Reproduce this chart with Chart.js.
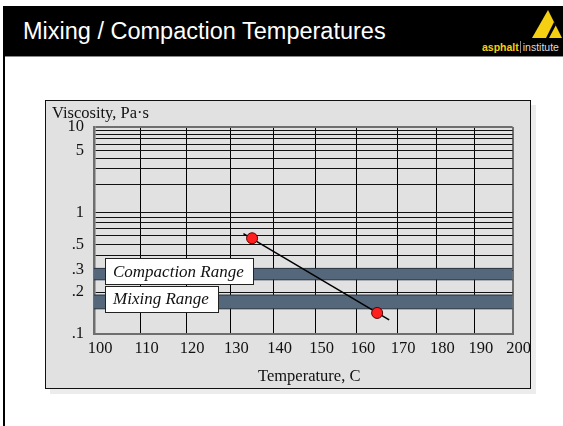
<!DOCTYPE html>
<html>
<head>
<meta charset="utf-8">
<script src="https://cdn.jsdelivr.net/npm/chart.js@4.4.1/dist/chart.umd.min.js"></script>
<style>
  body { margin: 0; width: 563px; height: 426px; background: #fff; position: relative; overflow: hidden; }
  #header { position: absolute; left: 3px; top: 6px; width: 560px; height: 50px; background: #000; border-bottom: 1px solid #8a8a8a; }
  #title { position: absolute; left: 20px; top: 12px; color: #fff; font: 23.5px "Liberation Sans", Arial, sans-serif; white-space: nowrap; }
  #leftRule { position: absolute; left: 3px; top: 56px; width: 2px; height: 370px; background: #000; }
  #logoText { position: absolute; left: 482px; top: 41px; font: 10.5px "Liberation Sans", Arial, sans-serif; white-space: nowrap; }
  #logoText b { color: #f5cf12; }
  #logoText span { color: #ddd; border-left: 1px solid #888; padding-left: 2px; margin-left: 1px; }
  #box { position: absolute; left: 45px; top: 100px; width: 484px; height: 287px; background: #e1e1e1; border: 1px solid #111; box-shadow: 5px 5px 0 #ececec; }
  #chart { position: absolute; left: 0; top: 0; }
  .axisTitle { position: absolute; font: 16.5px "Liberation Serif", "Times New Roman", serif; color: #111; white-space: nowrap; }
</style>
</head>
<body>
<div id="header"><div id="title">Mixing / Compaction Temperatures</div></div>
<svg style="position:absolute;left:530px;top:8px" width="33" height="32">
  <polygon points="18,2 2,30 32,30" fill="#f5cf12"/>
  <polygon points="24,14 16,30 19,30 26,17" fill="#000"/>
</svg>
<div id="logoText"><b>asphalt</b><span>institute</span></div>
<div id="leftRule"></div>
<div id="box">
  <canvas id="chart" width="484" height="287"></canvas>
  <div class="axisTitle" style="left:6px; top:2px;">Viscosity, Pa·s</div>
  <div class="axisTitle" style="left:212px; top:265px;">Temperature, C</div>
</div>
<script>
// temperature axis (C) and viscosity axis (Pa s)
const tempTicks = [100, 110, 120, 130, 140, 150, 160, 170, 180, 190, 200];
const viscGrid = [10, 9, 8, 7, 6, 5, 4, 3, 2, 1, 0.9, 0.8, 0.7, 0.6, 0.5, 0.4, 0.3, 0.2, 0.1];
const viscLabelled = [10, 5, 1, 0.5, 0.3, 0.2, 0.1];
const viscLabelText = ['10', '5', '1', '.5', '.3', '.2', '.1'];

// measured points and the fitted line through them
const measTemp = [135, 165];
const measVisc = [0.57, 0.14];
const lineTemp = [133, 168];
const lineVisc = [0.63, 0.125];

// viscosity ranges
const compactionRange = [0.25, 0.31];
const mixingRange = [0.15, 0.19];
const rangeNames = ['Compaction Range', 'Mixing Range'];

// chart paper: log of absolute temperature vs log-log of viscosity (mPa s)
function tx(t) { return Math.log10(t + 273.15); }
function ty(v) { return Math.log10(Math.log10(v * 1000)); }

function pts(xs, ys) {
    return xs.map((x, i) => ({ x: tx(x), y: ty(ys[i]) }));
}

function band(range, tag) {
    const t0 = tempTicks[0], t1 = tempTicks[tempTicks.length - 1];
    return [
        { label: tag + ' hi', data: pts([t0, t1], [range[1], range[1]]), borderColor: '#26313d', borderWidth: 1, pointRadius: 0, fill: false },
        { label: tag + ' lo', data: pts([t0, t1], [range[0], range[0]]), borderColor: '#26313d', borderWidth: 1, pointRadius: 0, fill: '-1', backgroundColor: '#55677b' }
    ];
}

const serif = '"Liberation Serif", "Times New Roman", serif';

const rangeLabels = {
    id: 'rangeLabels',
    afterDatasetsDraw(chart) {
        const { ctx, chartArea, scales } = chart;
        const y = scales.y;
        ctx.save();
        ctx.font = 'italic 17px ' + serif;
        [compactionRange, mixingRange].forEach((r, i) => {
            const yc = (y.getPixelForValue(ty(r[0])) + y.getPixelForValue(ty(r[1]))) / 2 - 3;
            const w = Math.round(ctx.measureText(rangeNames[i]).width + 17);
            const h = 26;
            const x0 = Math.round(chartArea.left + 11);
            const y0 = Math.round(yc - h / 2);
            ctx.fillStyle = '#fff';
            ctx.fillRect(x0, y0, w, h);
            ctx.strokeStyle = '#222';
            ctx.lineWidth = 1;
            ctx.strokeRect(x0 + 0.5, y0 + 0.5, w, h);
            ctx.fillStyle = '#111';
            ctx.textBaseline = 'middle';
            ctx.fillText(rangeNames[i], x0 + 8, yc + 1);
        });
        ctx.restore();
    }
};

new Chart(document.getElementById('chart'), {
    type: 'line',
    data: {
        datasets: [
            {
                label: 'Measured',
                data: pts(measTemp, measVisc),
                showLine: false,
                pointRadius: 5.5,
                pointBackgroundColor: '#ff1f1f',
                pointBorderColor: '#5a0000',
                pointBorderWidth: 1
            },
            {
                label: 'Fit',
                data: pts(lineTemp, lineVisc),
                borderColor: '#000',
                borderWidth: 1.5,
                pointRadius: 0
            },
            ...band(compactionRange, 'Compaction'),
            ...band(mixingRange, 'Mixing')
        ]
    },
    options: {
        responsive: false,
        animation: false,
        layout: { padding: { top: 26, right: 15, left: 0, bottom: 0 } },
        plugins: {
            legend: { display: false },
            tooltip: { enabled: false }
        },
        scales: {
            x: {
                type: 'linear',
                min: tx(tempTicks[0]),
                max: tx(tempTicks[tempTicks.length - 1]),
                afterBuildTicks: function(s) {
                    s.ticks = tempTicks.map(t => ({ value: tx(t) }));
                },
                afterFit: function(s) { s.height = 54; },
                border: { display: true, color: '#6e6e6e', width: 2 },
                grid: {
                    drawTicks: false,
                    color: function(c) {
                        return (c.index === 0 || c.index === tempTicks.length - 1) ? '#6e6e6e' : '#000';
                    },
                    lineWidth: function(c) {
                        return (c.index === 0 || c.index === tempTicks.length - 1) ? 2 : 1;
                    }
                },
                ticks: {
                    autoSkip: false,
                    maxRotation: 0,
                    padding: 5,
                    labelOffset: 6,
                    color: '#111',
                    font: { family: serif, size: 16.5 },
                    callback: function(value, index) { return String(tempTicks[index]); }
                }
            },
            y: {
                type: 'linear',
                min: ty(viscGrid[viscGrid.length - 1]),
                max: ty(viscGrid[0]),
                afterBuildTicks: function(s) {
                    s.ticks = viscGrid.map(v => ({ value: ty(v) }));
                },
                afterFit: function(s) { s.width = 48; },
                border: { display: true, color: '#6e6e6e', width: 2.5 },
                grid: {
                    drawTicks: false,
                    color: function(c) {
                        return (c.index === 0 || c.index === viscGrid.length - 1) ? '#6e6e6e' : '#111';
                    },
                    lineWidth: function(c) {
                        return (c.index === 0 || c.index === viscGrid.length - 1) ? 2 : 1;
                    }
                },
                ticks: {
                    autoSkip: false,
                    padding: 10,
                    color: '#111',
                    font: { family: serif, size: 16.5 },
                    callback: function(value, index) {
                        const k = viscLabelled.indexOf(viscGrid[index]);
                        return k >= 0 ? viscLabelText[k] : '';
                    }
                }
            }
        }
    },
    plugins: [rangeLabels]
});
</script>
</body>
</html>
